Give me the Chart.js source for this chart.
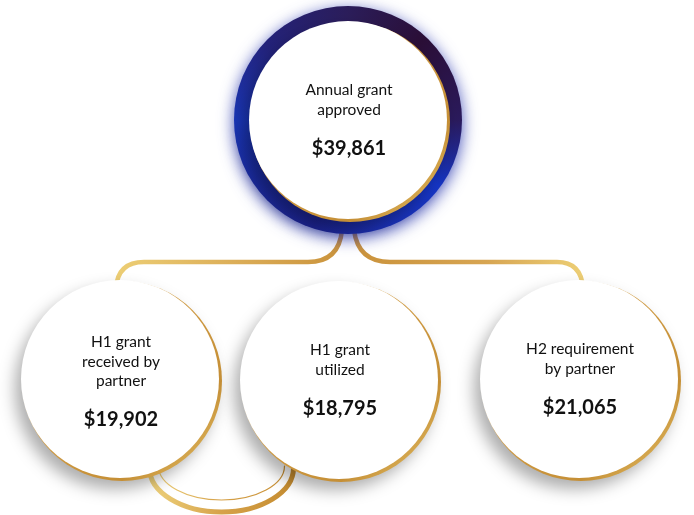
<!DOCTYPE html>
<html>
<head>
<meta charset="utf-8">
<script src="https://cdn.jsdelivr.net/npm/chart.js@4.4.1/dist/chart.umd.min.js"></script>
<style>
  html, body { margin: 0; padding: 0; background: #fff; }
  #wrap { width: 694px; height: 515px; position: relative; }
</style>
</head>
<body>
<div id="wrap"><canvas id="grantChart"></canvas></div>
<script>
// values shown in the bubbles
var nodeLabels = [
    ["Annual grant", "approved"],
    ["H1 grant", "received by", "partner"],
    ["H1 grant", "utilized"],
    ["H2 requirement", "by partner"]
];
var nodeValues = [39861, 19902, 18795, 21065];

// layout of the bubbles (scale units = pixels)
var nodeX = [348, 120, 339, 579];
var nodeY = [120, 379, 380, 379];
var nodeRadius = [99, 99, 99, 99];
var ringRadius = 114;
var busY = 262;

var gold = function(ctx, x0, y0, x1, y1) {
    var g = ctx.createLinearGradient(x0, y0, x1, y1);
    g.addColorStop(0, "#ecd48e");
    g.addColorStop(0.45, "#cf9a42");
    g.addColorStop(0.75, "#c58f36");
    g.addColorStop(1, "#e7c56c");
    return g;
};

var points = nodeX.map(function(x, i) { return { x: x, y: nodeY[i] }; });

var connectorPlugin = {
    id: "connectors",
    beforeDatasetsDraw: function(chart) {
        var ctx = chart.ctx;
        var sx = chart.scales.x, sy = chart.scales.y;
        var px = sx.getPixelForValue(nodeX[0]), py = sy.getPixelForValue(nodeY[0]);
        var by = sy.getPixelForValue(busY);
        var lx = sx.getPixelForValue(nodeX[1]), ly = sy.getPixelForValue(nodeY[1]);
        var rx = sx.getPixelForValue(nodeX[3]), ry = sy.getPixelForValue(nodeY[3]);
        var mx = sx.getPixelForValue(nodeX[2]);

        ctx.save();
        ctx.lineCap = "round";
        ctx.lineWidth = 4.5;

        // left branch
        var g = ctx.createLinearGradient(lx, 0, px, 0);
        g.addColorStop(0, "#eccd74");
        g.addColorStop(0.5, "#dcae58");
        g.addColorStop(1, "#c9913a");
        ctx.strokeStyle = g;
        ctx.beginPath();
        ctx.moveTo(px - 6, py + ringRadius - 4);
        ctx.quadraticCurveTo(px - 9, by, px - 40, by);
        ctx.lineTo(lx + 24, by);
        ctx.quadraticCurveTo(lx - 2, by, lx - 4, ly - nodeRadius[1] + 8);
        ctx.stroke();

        // right branch
        g = ctx.createLinearGradient(px, 0, rx, 0);
        g.addColorStop(0, "#c9913a");
        g.addColorStop(0.6, "#d7a552");
        g.addColorStop(1, "#eccd74");
        ctx.strokeStyle = g;
        ctx.beginPath();
        ctx.moveTo(px + 6, py + ringRadius - 4);
        ctx.quadraticCurveTo(px + 10, by, px + 42, by);
        ctx.lineTo(rx - 22, by);
        ctx.quadraticCurveTo(rx + 2, by, rx + 4, ry - nodeRadius[3] + 8);
        ctx.stroke();

        // loop under the first two bottom bubbles
        var ax = (lx + mx) / 2 - 8, ay = ly + 89;
        g = ctx.createLinearGradient(ax - 72, 0, ax + 72, 0);
        g.addColorStop(0, "#eed27c");
        g.addColorStop(0.5, "#d6a24a");
        g.addColorStop(1, "#c58c30");
        ctx.strokeStyle = g;
        ctx.lineWidth = 5;
        ctx.beginPath();
        ctx.ellipse(ax, ay, 72, 44, 0, 0, Math.PI);
        ctx.stroke();
        ctx.lineWidth = 1.2;
        ctx.beginPath();
        ctx.ellipse(ax, ay - 2, 63, 34, 0, 0, Math.PI);
        ctx.stroke();
        ctx.restore();
    },
    beforeDatasetDraw: function(chart, args) {
        var ctx = chart.ctx;
        var name = chart.data.datasets[args.index].label;
        ctx.save();
        if (name === "ring") {
            ctx.shadowColor = "rgba(25,40,170,0.8)";
            ctx.shadowBlur = 16;
            ctx.shadowOffsetY = 4;
        } else if (name === "rim") {
            ctx.translate(2, 2);
            ctx.shadowColor = "rgba(0,0,0,0.32)";
            ctx.shadowBlur = 16;
            ctx.shadowOffsetX = -7;
            ctx.shadowOffsetY = 8;
        }
    },
    afterDatasetDraw: function(chart) {
        chart.ctx.restore();
    },
    afterDatasetsDraw: function(chart) {
        var ctx = chart.ctx;
        var sx = chart.scales.x, sy = chart.scales.y;
        ctx.save();
        ctx.fillStyle = "#111";
        ctx.textAlign = "center";
        ctx.textBaseline = "middle";
        nodeLabels.forEach(function(lines, i) {
            var cx = sx.getPixelForValue(nodeX[i]) + 1;
            var cy = sy.getPixelForValue(nodeY[i]);
            var lh = 19.5;
            var blockTop = cy - 30 - (lines.length - 2) * 7;
            ctx.font = "15.5px Lato, 'Open Sans', sans-serif";
            lines.forEach(function(t, k) {
                ctx.fillText(t, cx, blockTop + k * lh);
            });
            ctx.font = "bold 20px Lato, 'Open Sans', sans-serif";
            var vy = blockTop + (lines.length - 1) * lh + 39;
            ctx.fillText("$" + nodeValues[i].toLocaleString("en-US"), cx, vy);
        });
        ctx.restore();
    }
};

new Chart(document.getElementById("grantChart"), {
    type: "scatter",
    data: {
        datasets: [
            {
                label: "face",
                order: 1,
                data: points,
                pointRadius: nodeRadius,
                borderWidth: 0,
                backgroundColor: "#ffffff"
            },
            {
                label: "rim",
                order: 2,
                data: points,
                pointRadius: nodeRadius.map(function(r) { return r + 1; }),
                borderWidth: 0,
                backgroundColor: function(c) {
                    var i = c.dataIndex;
                    var chart = c.chart;
                    if (!chart.chartArea || i === undefined) return "#d4a04a";
                    var x = chart.scales.x.getPixelForValue(nodeX[i]);
                    var y = chart.scales.y.getPixelForValue(nodeY[i]);
                    var r = nodeRadius[i];
                    return gold(chart.ctx, x - r, y - r, x + r, y + r);
                }
            },
            {
                label: "ring",
                order: 3,
                data: [points[0]],
                pointRadius: ringRadius,
                borderWidth: 0,
                backgroundColor: function(c) {
                    var chart = c.chart;
                    if (!chart.chartArea) return "#1a2a9c";
                    var x = chart.scales.x.getPixelForValue(nodeX[0]);
                    var y = chart.scales.y.getPixelForValue(nodeY[0]);
                    var g = chart.ctx.createConicGradient(0, x, y);
                    g.addColorStop(0.00, "#2a1a5c");
                    g.addColorStop(0.10, "#1535c6");
                    g.addColorStop(0.20, "#1a2fb0");
                    g.addColorStop(0.30, "#1c2390");
                    g.addColorStop(0.40, "#1b2a9e");
                    g.addColorStop(0.50, "#1a36b8");
                    g.addColorStop(0.62, "#23227a");
                    g.addColorStop(0.75, "#2b1d5a");
                    g.addColorStop(0.87, "#2a0e36");
                    g.addColorStop(1.00, "#2a1a5c");
                    return g;
                }
            }
        ]
    },
    options: {
        responsive: true,
        maintainAspectRatio: false,
        animation: false,
        events: [],
        layout: { padding: 0, autoPadding: false },
        clip: false,
        plugins: {
            legend: { display: false },
            tooltip: { enabled: false }
        },
        scales: {
            x: { type: "linear", min: 0, max: 694, display: false },
            y: { type: "linear", min: 0, max: 515, reverse: true, display: false }
        }
    },
    plugins: [connectorPlugin]
});
</script>
</body>
</html>
